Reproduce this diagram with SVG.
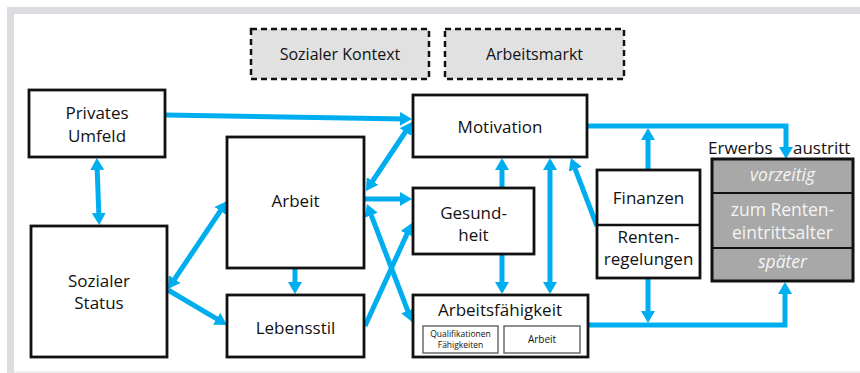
<svg xmlns="http://www.w3.org/2000/svg" width="860" height="373" viewBox="0 0 860 373">
<style>
text{font-family:"Open Sans","Noto Sans","Liberation Sans",sans-serif;fill:#111;text-anchor:middle}
.t{font-size:17px}
.box{fill:#fff;stroke:#111;stroke-width:2.8}
.dash{fill:#e1e1e2;stroke:#111;stroke-width:2.5;stroke-dasharray:6 4}
.sub{fill:#fff;stroke:#6a6a6a;stroke-width:1.5}
.c{fill:none;stroke:#00aeef;stroke-width:5}
.w{fill:#f4f4f4;font-size:17.5px}
</style>
<defs>
<marker id="ah" viewBox="0 0 12 14" refX="6" refY="7" markerWidth="12" markerHeight="14" markerUnits="userSpaceOnUse" orient="auto-start-reverse">
<path d="M0,0 L12,7 L0,14 z" fill="#00aeef"/>
</marker>
</defs>
<rect x="7" y="7" width="853" height="7" fill="#dcdde0"/>
<rect x="7" y="7" width="7" height="366" fill="#dcdde0"/>
<rect x="14" y="371" width="846" height="2" fill="#eeeeee"/>

<g id="connectors">
<line class="c" x1="165" y1="115" x2="406" y2="119" marker-end="url(#ah)"/>
<line class="c" x1="97" y1="164" x2="99" y2="219" marker-start="url(#ah)" marker-end="url(#ah)"/>
<line class="c" x1="369.3" y1="186" x2="408.7" y2="127" marker-start="url(#ah)" marker-end="url(#ah)"/>
<line class="c" x1="364" y1="199" x2="406" y2="199" marker-end="url(#ah)"/>
<line class="c" x1="369.1" y1="209.6" x2="409.9" y2="316.4" marker-start="url(#ah)" marker-end="url(#ah)"/>
<line class="c" x1="365" y1="326" x2="409.5" y2="228.5" marker-end="url(#ah)"/>
<line class="c" x1="171.3" y1="284" x2="223.7" y2="206" marker-start="url(#ah)" marker-end="url(#ah)"/>
<line class="c" x1="168" y1="290" x2="221.8" y2="321.9" marker-end="url(#ah)"/>
<line class="c" x1="295" y1="268" x2="295" y2="288" marker-end="url(#ah)"/>
<line class="c" x1="502" y1="188" x2="502" y2="164" marker-end="url(#ah)"/>
<line class="c" x1="502" y1="254" x2="502" y2="288" marker-end="url(#ah)"/>
<line class="c" x1="550" y1="164" x2="550" y2="288" marker-start="url(#ah)" marker-end="url(#ah)"/>
<line class="c" x1="597" y1="226" x2="573.1" y2="163.6" marker-end="url(#ah)"/>
<path class="c" d="M587,126 H786 V153" marker-end="url(#ah)"/>
<line class="c" x1="648" y1="170" x2="648" y2="134" marker-end="url(#ah)"/>
<path class="c" d="M588,325 H785 V288" marker-end="url(#ah)"/>
<line class="c" x1="648" y1="278" x2="648" y2="317" marker-end="url(#ah)"/>
</g>

<g id="sozialer-kontext">
<rect class="dash" x="251" y="29" width="178" height="50"/>
<text x="340" y="60" style="font-size:16px">Sozialer Kontext</text>
</g>
<g id="arbeitsmarkt">
<rect class="dash" x="445" y="29" width="179" height="50"/>
<text x="534.5" y="60" style="font-size:16px">Arbeitsmarkt</text>
</g>
<g id="privates-umfeld">
<rect class="box" x="29" y="90" width="136" height="67"/>
<text class="t" x="97" y="119">Privates</text>
<text class="t" x="97" y="142">Umfeld</text>
</g>
<g id="motivation">
<rect class="box" x="413" y="95" width="174" height="62"/>
<text class="t" x="500" y="133">Motivation</text>
</g>
<g id="arbeit">
<rect class="box" x="227" y="137" width="137" height="131"/>
<text class="t" x="295.5" y="207">Arbeit</text>
</g>
<g id="sozialer-status">
<rect class="box" x="31" y="226" width="136" height="131"/>
<text class="t" x="99" y="287">Sozialer</text>
<text class="t" x="99" y="309">Status</text>
</g>
<g id="lebensstil">
<rect class="box" x="227" y="295" width="137" height="62"/>
<text class="t" x="295.5" y="334">Lebensstil</text>
</g>
<g id="gesundheit">
<rect class="box" x="413" y="188" width="121" height="66"/>
<text class="t" x="473.5" y="219">Gesund-</text>
<text class="t" x="473.5" y="241">heit</text>
</g>
<g id="arbeitsfaehigkeit">
<rect class="box" x="413" y="295" width="175" height="62"/>
<text class="t" x="500" y="316">Arbeitsfähigkeit</text>
<rect class="sub" x="423" y="326" width="75" height="27"/>
<text x="460.5" y="337" style="font-size:8.5px">Qualifikationen</text>
<text x="460.5" y="348" style="font-size:8.5px">Fähigkeiten</text>
<rect class="sub" x="504" y="326" width="76" height="27"/>
<text x="542" y="343" style="font-size:10px">Arbeit</text>
</g>
<g id="finanzen-rentenregelungen">
<rect class="box" x="597" y="170" width="103" height="108"/>
<line x1="597" y1="225" x2="700" y2="225" stroke="#111" stroke-width="2.5"/>
<text class="t" x="648.5" y="204">Finanzen</text>
<text class="t" x="648.5" y="243">Renten-</text>
<text class="t" x="648.5" y="265">regelungen</text>
</g>
<g id="erwerbsaustritt">
<text class="t" x="708" y="154" style="text-anchor:start">Erwerbs</text>
<text class="t" x="793" y="154" style="text-anchor:start">austritt</text>
<rect x="712" y="159" width="141" height="122" fill="#a8a8a8" stroke="#111" stroke-width="3"/>
<line x1="712" y1="193" x2="853" y2="193" stroke="#111" stroke-width="2"/>
<line x1="712" y1="248" x2="853" y2="248" stroke="#111" stroke-width="2"/>
<text class="w" x="782.5" y="181" font-style="italic">vorzeitig</text>
<text class="w" x="782.5" y="216">zum Renten-</text>
<text class="w" x="782.5" y="239">eintrittsalter</text>
<text class="w" x="782.5" y="268" font-style="italic">später</text>
</g>
</svg>
